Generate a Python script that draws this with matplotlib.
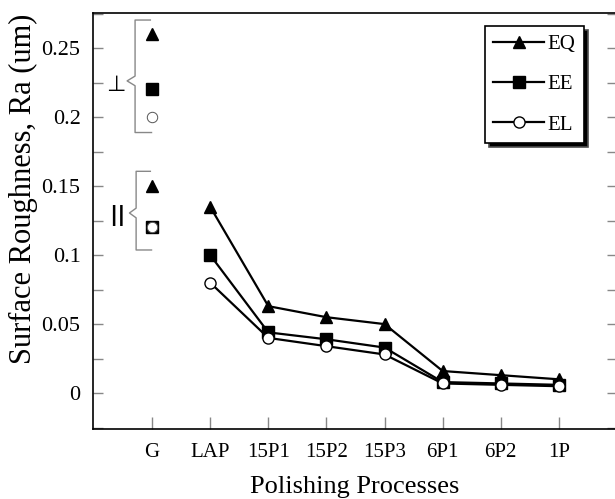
import matplotlib
matplotlib.use("Agg")
import matplotlib.pyplot as plt
from matplotlib.ticker import MultipleLocator, FixedLocator

plt.rcParams['font.family'] = ['Liberation Serif', 'DejaVu Sans']

categories = ['G', 'LAP', '15P1', '15P2', '15P3', '6P1', '6P2', '1P']
# polishing series (LAP .. 1P)
eq_vals = [0.135, 0.063, 0.055, 0.050, 0.016, 0.013, 0.010]
ee_vals = [0.100, 0.044, 0.039, 0.033, 0.008, 0.007, 0.006]
el_vals = [0.080, 0.040, 0.034, 0.028, 0.007, 0.006, 0.005]
# ground (G) values, perpendicular and parallel directions
g_perp = {'EQ': 0.26, 'EE': 0.22, 'EL': 0.20}
g_para = {'EQ': 0.15, 'EE': 0.12, 'EL': 0.12}
ytick_vals = [0, 0.05, 0.1, 0.15, 0.2, 0.25]
ytick_labels = ['0', '0.05', '0.1', '0.15', '0.2', '0.25']

fig = plt.figure(figsize=(6.15, 4.99), dpi=100)
ax = fig.add_axes([93/615, (499-429)/499, (617-93)/615, (429-13)/499])

xs = list(range(1, len(categories)))
lw = 1.6
ax.plot(xs, eq_vals, '-', color='black', lw=lw, marker='^', ms=8.5,
        mfc='black', mec='black', label='EQ', zorder=3)
ax.plot(xs, ee_vals, '-', color='black', lw=lw, marker='s', ms=8.5,
        mfc='black', mec='black', label='EE', zorder=3)
ax.plot(xs, el_vals, '-', color='black', lw=lw, marker='o', ms=8,
        mfc='white', mec='black', mew=1.0, label='EL', zorder=4)

# G markers
for d in (g_perp, g_para):
    ax.plot([0], [d['EQ']], marker='^', ms=8.5, color='black', ls='none', zorder=3)
    ax.plot([0], [d['EE']], marker='s', ms=8.5, color='black', ls='none', zorder=3)
    ax.plot([0], [d['EL']], marker='o', ms=7.5, mfc='white', mec='#555555',
            mew=0.7, ls='none', zorder=4)

# braces
bc = '#888888'
def brace(y_top, y_bot, y_mid, x_v=-0.293, x_tip=-0.43, x_end=-0.03, h=0.0035):
    ax.plot([x_end, x_v, x_v, x_tip, x_v, x_v, x_end + 0.02],
            [y_top, y_top, y_mid + h, y_mid, y_mid - h, y_bot, y_bot],
            color=bc, lw=1.0, clip_on=False, zorder=2)

brace(0.2703, 0.1888, 0.2262)
brace(0.1607, 0.1037, 0.1305, x_v=-0.275, x_tip=-0.39)
ax.text(-0.62, 0.2235, '⊥', family='DejaVu Sans', fontsize=16,
        ha='center', va='center')
ax.text(-0.6, 0.1285, '||', family='DejaVu Sans', fontsize=16, fontweight='bold',
        ha='center', va='center')

ax.set_xlim(-1.017, 8.0)
ax.set_ylim(-0.026, 0.2754)

ax.xaxis.set_major_locator(FixedLocator(range(len(categories))))
ax.set_xticklabels(categories)
ax.set_yticks(ytick_vals)
ax.set_yticklabels(ytick_labels)
ax.yaxis.set_minor_locator(MultipleLocator(0.025))

ax.tick_params(axis='both', which='both', direction='in', color='#888888', width=1.0)
ax.tick_params(axis='y', which='both', length=7, right=True, pad=9, labelsize=16)
ax.tick_params(axis='x', which='major', length=9, top=False, pad=10, labelsize=15)
ax.tick_params(axis='x', which='minor', bottom=False)

for s in ax.spines.values():
    s.set_linewidth(1.2)

ax.set_xlabel('Polishing Processes', fontsize=19, labelpad=10)
ax.set_ylabel('Surface Roughness, Ra (um)', fontsize=22)
ax.yaxis.set_label_coords(-0.105, 0.577)

leg = ax.legend(loc='upper left', bbox_to_anchor=(485/615, 1-26/499),
                bbox_transform=fig.transFigure, borderaxespad=0,
                fontsize=15, handlelength=2.45, handletextpad=0.15,
                labelspacing=1.0, borderpad=0.4, fancybox=False,
                frameon=True, edgecolor='black',
                shadow={'ox': 3, 'oy': -3, 'facecolor': 'black', 'alpha': 1})
leg.get_frame().set_linewidth(1.2)

fig.savefig('out.png', dpi=100)
